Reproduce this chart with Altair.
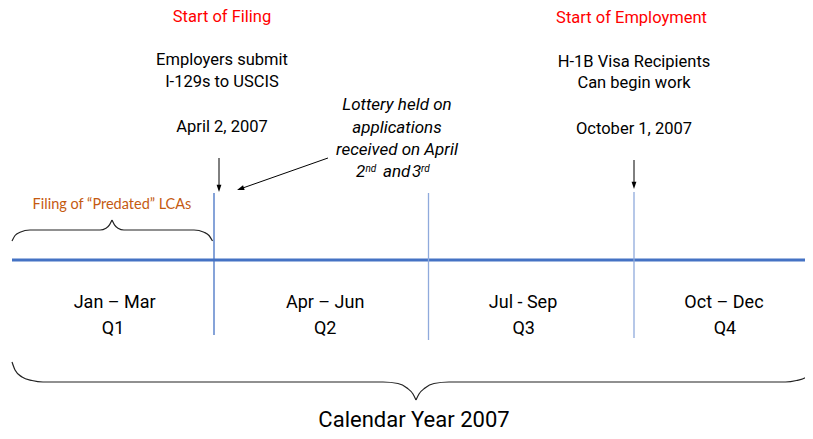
import altair as alt
import pandas as pd

# ---------------- values ----------------
# Horizontal axis: months of 2007 (0 = 1 Jan, 3 = 1 Apr, 6 = 1 Jul, 9 = 1 Oct, 12 = year end)
month_marks = [0, 3, 6, 9, 12]
# Vertical axis: layout level in page pixels (top = 8)

# the main time line
timeline_start = [0]
timeline_end = [12]
timeline_level = [260]

# quarter dividers
divider_month = [3, 6, 9]
divider_kind = ["filing", "quarter", "quarter"]
divider_top = [193, 193, 192]
divider_bottom = [335, 340, 338]

# quarter labels
quarter_names = ["Jan – Mar", "Apr – Jun", "Jul - Sep", "Oct – Dec"]
quarter_name_month = [1.525, 4.555, 7.38, 10.31]
quarter_codes = ["Q1", "Q2", "Q3", "Q4"]
quarter_code_month = [1.5, 4.555, 7.39, 10.325]
quarter_name_level = [308, 308, 308, 308]
quarter_code_level = [334, 334, 334, 334]

# red headings
heading_text = ["Start of Filing", "Start of Employment"]
heading_month = [3.112, 8.964]
heading_level = [21.5, 22.5]

# black event notes
note_text = ["Employers submit", "I-129s to USCIS", "April 2, 2007",
             "H-1B Visa Recipients", "Can begin work", "October 1, 2007"]
note_month = [3.112, 3.112, 3.112, 9.0, 9.0, 9.0]
note_level = [65, 87.3, 131.7, 66.7, 88.3, 134]

# italic lottery note
lottery_text = ["Lottery held on", "applications", "received on April"]
lottery_month = [5.559, 5.559, 5.559]
lottery_level = [110, 132.7, 154.5]
lottery_main_text = ["2", "and", "3"]
lottery_main_month = [4.986, 5.364, 5.769]
lottery_main_level = [177, 177, 177]
lottery_sup_text = ["nd", "rd"]
lottery_sup_month = [5.119, 5.895]
lottery_sup_level = [172, 172]

# orange note and bottom caption
predated_text = ["Filing of \u201cPredated\u201d LCAs"]
predated_month = [1.485]
predated_level = [209.3]
caption_text = ["Calendar Year 2007"]
caption_month = [5.797]
caption_level = [426.5]

# arrows (shaft start -> shaft end, head position)
arrow_start_month = [3.07, 9.0, 4.594]
arrow_start_level = [158, 160, 158]
arrow_end_month = [3.07, 9.0, 3.375]
arrow_end_level = [186, 183, 188.7]
head_down_month = [3.07, 9.0]
head_down_level = [188, 185]
head_diag_month = [3.375]
head_diag_level = [188.7]

# braces
brace_filing_month = [0, 0.045, 0.119, 0.267, 1.307, 1.396, 1.448, 1.485,
                      1.485, 1.522, 1.574, 1.663, 2.703, 2.852, 2.926, 2.978]
brace_filing_level = [241, 235.5, 232.3, 230, 230, 228.2, 224.8, 220,
                      220, 224.8, 228.2, 230, 230, 232.3, 235.5, 241]
brace_filing_part = ["L"] * 8 + ["R"] * 8

brace_year_month = [0, 0.045, 0.149, 0.297, 0.46, 5.364, 5.573, 5.699, 5.783, 5.825,
                    5.825, 5.867, 5.951, 6.08, 6.299, 11.206, 11.366, 11.512, 11.614, 11.658]
brace_year_level = [362, 370, 377, 380.5, 382, 382, 383.5, 388, 394, 400,
                    400, 394, 388, 383.5, 382, 382, 380.5, 377, 370, 362]
brace_year_part = ["L"] * 10 + ["R"] * 10

# ---------------- chart ----------------
W, H = 797, 423
xscale = alt.Scale(domain=month_marks, range=[4, 206, 420.5, 626, 832], nice=False, zero=False)
yscale = alt.Scale(domain=[8, 8 + H], range=[0, H], nice=False, zero=False)
X = alt.X("month:Q", scale=xscale, axis=None)
Y = alt.Y("level:Q", scale=yscale, axis=None)

DIN = "Roboto"

def tbl(**cols):
    return pd.DataFrame(cols)

timeline = alt.Chart(tbl(month=timeline_start, month2=timeline_end, level=timeline_level)).mark_rule(
    color="#4472C4", strokeWidth=3).encode(x=X, x2="month2:Q", y=Y)

dividers = alt.Chart(tbl(month=divider_month, level=divider_top, level2=divider_bottom,
                         kind=divider_kind)).mark_rule(strokeWidth=1.3).encode(
    x=X, y=Y, y2="level2:Q",
    color=alt.Color("kind:N", scale=alt.Scale(domain=["filing", "quarter"],
                                              range=["#4472C4", "#8FAADC"]), legend=None))

arrows = alt.Chart(tbl(month=arrow_start_month, level=arrow_start_level,
                       month2=arrow_end_month, level2=arrow_end_level)).mark_rule(
    color="#000000", strokeWidth=1).encode(x=X, y=Y, x2="month2:Q", y2="level2:Q")

HEAD = "M0,1L-0.6,-0.8L0.6,-0.8Z"
heads_down = alt.Chart(tbl(month=head_down_month, level=head_down_level)).mark_point(
    shape=HEAD, filled=True, size=64, color="#000000", opacity=1).encode(x=X, y=Y)
heads_diag = alt.Chart(tbl(month=head_diag_month, level=head_diag_level)).mark_point(
    shape=HEAD, filled=True, size=64, color="#000000", opacity=1, angle=70.6).encode(x=X, y=Y)

braces = alt.layer(
    alt.Chart(tbl(month=brace_filing_month, level=brace_filing_level, part=brace_filing_part)).mark_line(
        color="#222222", strokeWidth=1.2, interpolate="monotone").encode(x=X, y=Y, detail="part:N"),
    alt.Chart(tbl(month=brace_year_month, level=brace_year_level, part=brace_year_part)).mark_line(
        color="#222222", strokeWidth=1.2, interpolate="monotone").encode(x=X, y=Y, detail="part:N"),
)

def texts(months, levels, labels, **mark):
    return alt.Chart(tbl(month=months, level=levels, text=labels)).mark_text(
        baseline="alphabetic", **mark).encode(x=X, y=Y, text="text:N")

layers = [
    timeline, dividers, arrows, heads_down, heads_diag, braces,
    texts(heading_month, heading_level, heading_text, font=DIN, fontSize=16.5, color="#FF0000", align="center"),
    texts(note_month, note_level, note_text, font=DIN, fontSize=16.5, color="#000000", align="center"),
    texts(lottery_month, lottery_level, lottery_text, font=DIN, fontSize=17, fontStyle="italic",
          color="#000000", align="center"),
    texts(lottery_main_month, lottery_main_level, lottery_main_text, font=DIN, fontSize=17,
          fontStyle="italic", color="#000000", align="left"),
    texts(lottery_sup_month, lottery_sup_level, lottery_sup_text, font=DIN, fontSize=10,
          fontStyle="italic", color="#000000", align="left"),
    texts(predated_month, predated_level, predated_text, font="Lato", fontSize=14.5, color="#C55A11",
          align="center"),
    texts(quarter_name_month, quarter_name_level, quarter_names, font=DIN, fontSize=18,
          color="#000000", align="center"),
    texts(quarter_code_month, quarter_code_level, quarter_codes, font=DIN, fontSize=18,
          color="#000000", align="center"),
    texts(caption_month, caption_level, caption_text, font=DIN, fontSize=22, color="#000000",
          align="center"),
]

chart = alt.layer(*layers).properties(
    width=W, height=H, padding=0, autosize="none", background="#FFFFFF"
).configure_view(strokeWidth=0)

chart.save("out.html", embed_options={"renderer": "svg", "actions": False})
